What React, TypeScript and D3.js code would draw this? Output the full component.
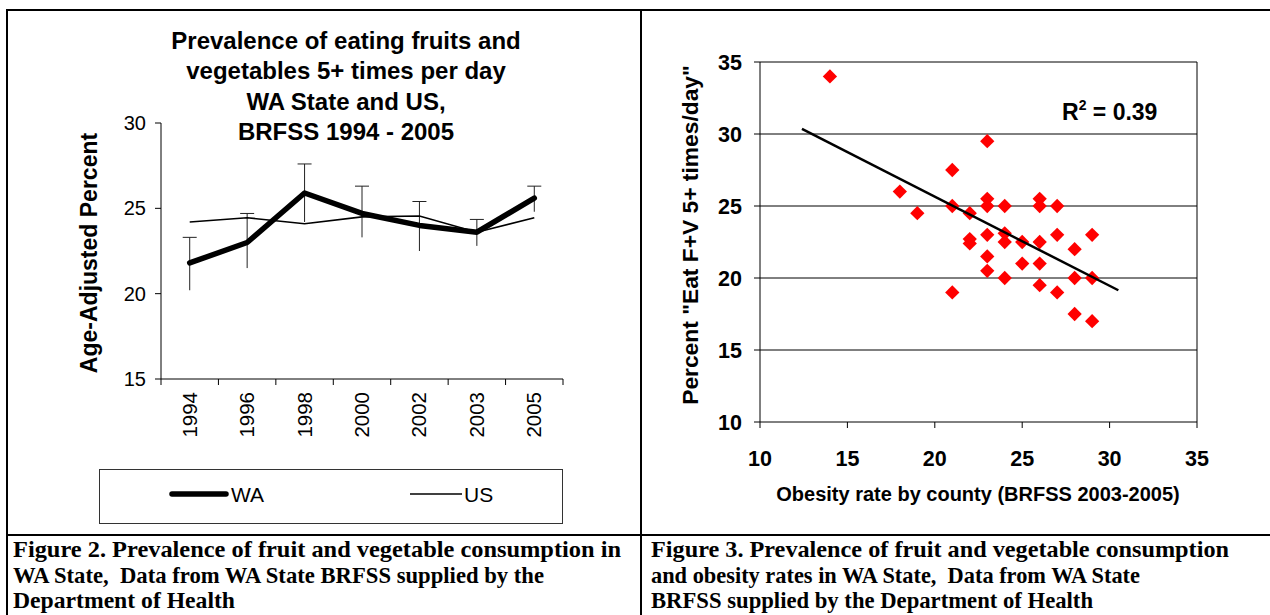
import React from "react";
import * as d3 from "d3";

// ---------- Left chart data ----------
const years = ["1994", "1996", "1998", "2000", "2002", "2003", "2005"];
const waValues = [21.8, 23.0, 25.9, 24.7, 24.0, 23.6, 25.6];
const usValues = [24.2, 24.45, 24.1, 24.5, 24.55, 23.6, 24.45];
const waUpper = [23.3, 24.7, 27.6, 26.3, 25.4, 24.35, 26.3];
const waLower = [20.2, 21.5, 24.2, 23.3, 22.5, 22.8, 24.8];
const leftYTicks = [15, 20, 25, 30];
const leftTitle = [
  "Prevalence of eating fruits and",
  "vegetables 5+ times per day",
  "WA State and US,",
  "BRFSS 1994 - 2005",
];

// ---------- Right chart data ----------
const obesity = [14, 23, 21, 18, 19, 21, 22, 23, 23, 24, 26, 26, 27, 23, 22, 22, 24, 24, 25, 26, 27, 29, 28, 23, 23, 25, 26, 24, 21, 26, 27, 28, 29, 28, 29];
const fruitVeg = [34, 29.5, 27.5, 26, 24.5, 25, 24.5, 25.5, 25, 25, 25.5, 25, 25, 23, 22.7, 22.4, 23.1, 22.5, 22.5, 22.5, 23, 23, 22, 21.5, 20.5, 21, 21, 20, 19, 19.5, 19, 20, 20, 17.5, 17];
const trendX = [12.4, 30.5];
const trendY = [30.35, 19.15];
const rightTicks = [10, 15, 20, 25, 30, 35];

const captionLeft = [
  "Figure 2. Prevalence of fruit and vegetable consumption in",
  "WA State,\u00a0 Data from WA State BRFSS supplied by the",
  "Department of Health",
];
const captionLeftWidths = [608, 531, 222];
const captionRight = [
  "Figure 3. Prevalence of fruit and vegetable consumption",
  "and obesity rates in WA State,\u00a0 Data from WA State",
  "BRFSS supplied by the Department of Health",
];
const captionRightWidths = [578, 489, 442];

const SANS = "'Liberation Sans', Arial, sans-serif";
const SERIF = "'Liberation Serif', 'Times New Roman', serif";

export default function App() {
  // left scales
  const xL = d3.scaleBand<string>().domain(years).range([161, 563]);
  const yL = d3.scaleLinear().domain([15, 30]).range([379, 123]);
  const cx = (y: string) => (xL(y) as number) + xL.bandwidth() / 2;
  const seriesLine = d3
    .line<number>()
    .x((_, i) => cx(years[i]))
    .y((d) => yL(d));
  const bandEdges = [...years.map((y) => xL(y) as number), 563];

  // right scales
  const xR = d3.scaleLinear().domain([10, 35]).range([760, 1197]);
  const yR = d3.scaleLinear().domain([10, 35]).range([422, 62]);
  const diamond = d3.symbol().type(d3.symbolDiamond2).size(130);
  const trend = d3
    .line<number>()
    .x((d) => xR(d))
    .y((_, i) => yR(trendY[i]));

  return (
    <svg
      width={1270}
      height={615}
      style={{ position: "absolute", left: 0, top: 0, background: "#fff" }}
    >
      <rect x={0} y={0} width={1270} height={615} fill="#fff" />
      {/* frame */}
      <g stroke="#000" strokeWidth={2} fill="none">
        <line x1={6} x2={1270} y1={10} y2={10} />
        <line x1={7} x2={7} y1={9} y2={615} />
        <line x1={641} x2={641} y1={9} y2={615} />
        <line x1={6} x2={1270} y1={535} y2={535} />
      </g>

      {/* ---------- LEFT CHART ---------- */}
      <g fontFamily={SANS} fill="#000">
        {leftTitle.map((t, i) => (
          <text
            key={t}
            x={346}
            y={49 + i * 30.3}
            textAnchor="middle"
            fontWeight="bold"
            fontSize={24}
          >
            {t}
          </text>
        ))}
        <text
          transform={`translate(97,253) rotate(-90)`}
          textAnchor="middle"
          fontWeight="bold"
          fontSize={23}
        >
          Age-Adjusted Percent
        </text>
        {/* axes */}
        <line x1={161} x2={161} y1={123} y2={379} stroke="#000" strokeWidth={1} />
        <line x1={161} x2={563} y1={379} y2={379} stroke="#000" strokeWidth={1} />
        {leftYTicks.map((t) => (
          <g key={t}>
            <line x1={155} x2={161} y1={yL(t)} y2={yL(t)} stroke="#000" />
            <text x={146} y={yL(t) + 7} textAnchor="end" fontSize={20}>
              {t}
            </text>
          </g>
        ))}
        {bandEdges.map((x, i) => (
          <line key={i} x1={x} x2={x} y1={379} y2={385} stroke="#000" />
        ))}
        {years.map((y) => (
          <text
            key={y}
            transform={`translate(${cx(y) + 7},${392}) rotate(-90)`}
            textAnchor="end"
            fontSize={20.5}
          >
            {y}
          </text>
        ))}
        {/* error bars */}
        {years.map((y, i) => (
          <g key={y} stroke="#222" strokeWidth={1}>
            <line x1={cx(y)} x2={cx(y)} y1={yL(waUpper[i])} y2={yL(waLower[i])} />
            <line x1={cx(y) - 7} x2={cx(y) + 7} y1={yL(waUpper[i])} y2={yL(waUpper[i])} />
          </g>
        ))}
        <path d={seriesLine(usValues) || ""} fill="none" stroke="#000" strokeWidth={1.6} />
        <path
          d={seriesLine(waValues) || ""}
          fill="none"
          stroke="#000"
          strokeWidth={5.5}
          strokeLinejoin="round"
          strokeLinecap="round"
        />
        {/* legend */}
        <rect x={99.5} y={469.5} width={463} height={54} fill="none" stroke="#333" />
        <line x1={172} x2={226} y1={494} y2={494} stroke="#000" strokeWidth={5.5} strokeLinecap="round" />
        <text x={231} y={502} fontSize={21}>
          WA
        </text>
        <line x1={410} x2={462} y1={494} y2={494} stroke="#000" strokeWidth={1.6} />
        <text x={464} y={502} fontSize={21}>
          US
        </text>
      </g>

      {/* ---------- RIGHT CHART ---------- */}
      <g fontFamily={SANS} fill="#000">
        {/* gridlines */}
        {rightTicks.slice(1).map((t) => (
          <line key={t} x1={760} x2={1197} y1={yR(t)} y2={yR(t)} stroke="#000" strokeWidth={1} />
        ))}
        <line x1={1197} x2={1197} y1={yR(35)} y2={yR(10)} stroke="#000" />
        <line x1={760} x2={760} y1={yR(35)} y2={yR(10)} stroke="#000" />
        <line x1={760} x2={1197} y1={yR(10)} y2={yR(10)} stroke="#000" />
        {rightTicks.map((t) => (
          <g key={t}>
            <line x1={754} x2={760} y1={yR(t)} y2={yR(t)} stroke="#000" />
            <text x={742} y={yR(t) + 8} textAnchor="end" fontSize={21.5} fontWeight="bold">
              {t}
            </text>
            <line x1={xR(t)} x2={xR(t)} y1={422} y2={428} stroke="#000" />
            <text x={xR(t)} y={466} textAnchor="middle" fontSize={21.5} fontWeight="bold">
              {t}
            </text>
          </g>
        ))}
        <text x={978} y={501} textAnchor="middle" fontSize={20} fontWeight="bold">
          Obesity rate by county (BRFSS 2003-2005)
        </text>
        <text
          transform={`translate(698,235) rotate(-90)`}
          textAnchor="middle"
          fontWeight="bold"
          fontSize={22.8}
        >
          Percent "Eat F+V 5+ times/day"
        </text>
        {obesity.map((o, i) => (
          <path
            key={i}
            d={diamond() || ""}
            transform={`translate(${xR(o)},${yR(fruitVeg[i])})`}
            fill="#ff0000"
          />
        ))}
        <path d={trend(trendX) || ""} stroke="#000" strokeWidth={2.5} fill="none" />
        <text x={1062} y={120} fontSize={23} fontWeight="bold">
          R<tspan dy={-10} fontSize={14}>2</tspan>
          <tspan dy={10}> = 0.39</tspan>
        </text>
      </g>

      {/* ---------- CAPTIONS ---------- */}
      <g fontFamily={SERIF} fontWeight="bold" fontSize={23.5} fill="#000">
        {captionLeft.map((t, i) => (
          <text
            key={t}
            x={13}
            y={557 + i * 25.5}
            textLength={captionLeftWidths[i]}
            lengthAdjust="spacingAndGlyphs"
          >
            {t}
          </text>
        ))}
        {captionRight.map((t, i) => (
          <text
            key={t}
            x={651}
            y={557 + i * 25.5}
            textLength={captionRightWidths[i]}
            lengthAdjust="spacingAndGlyphs"
          >
            {t}
          </text>
        ))}
      </g>
    </svg>
  );
}
